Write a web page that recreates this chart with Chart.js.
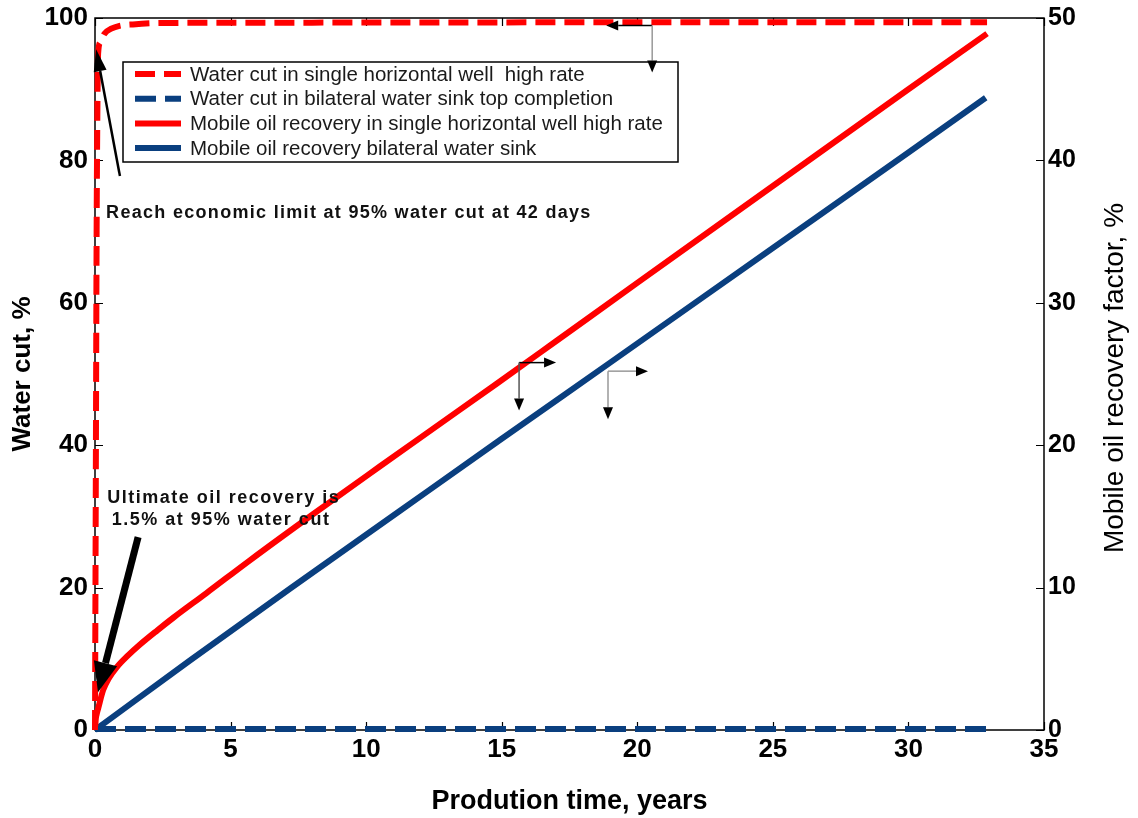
<!DOCTYPE html>
<html>
<head>
<meta charset="utf-8">
<title>Water cut and mobile oil recovery</title>
<script src="https://cdn.jsdelivr.net/npm/chart.js@4.4.0/dist/chart.umd.min.js"></script>
<style>
  html, body { margin: 0; padding: 0; background: #fff; }
</style>
</head>
<body>
<canvas id="chart" width="1138" height="818"></canvas>
<script>
// water cut, single horizontal well (high rate) - left axis, %
const wcSingleYears = [0, 0.03, 0.06, 0.09, 0.115, 0.2, 0.35, 0.6, 0.9, 1.4, 2.5, 8, 20, 32.9];
const wcSingle      = [0, 35, 70, 88, 95, 96.6, 97.8, 98.5, 98.9, 99.1, 99.3, 99.35, 99.4, 99.4];

// water cut, bilateral water sink top completion - left axis, %
const wcBilateralYears = [0, 32.9];
const wcBilateral      = [0.15, 0.15];

// mobile oil recovery, single horizontal well - right axis, %
const recSingleYears = [0, 0.03, 0.06, 0.115, 0.3, 0.5, 0.8, 1.2, 1.66, 2.3, 2.9, 4.1, 5.7, 8, 10.5, 12.5, 14.8, 17, 20, 25, 30, 32.9];
const recSingle      = [0, 0.8, 1.1, 1.5, 2.8, 3.6, 4.4, 5.2, 6.0, 7.0, 7.9, 9.6, 11.9, 15.1, 18.5, 21.2, 24.3, 27.3, 31.4, 38.2, 45.0, 48.9];

// mobile oil recovery, bilateral water sink - right axis, %
const recBilateralYears = [0, 1, 3.5, 7.2, 11.25, 15, 19, 25, 30, 32.85];
const recBilateral      = [0, 1.4, 4.88, 9.94, 15.4, 20.45, 25.8, 33.85, 40.55, 44.4];

const seriesLabels = [
  'Water cut in single horizontal well  high rate',
  'Water cut in bilateral water sink top completion',
  'Mobile oil recovery in single horizontal well high rate',
  'Mobile oil recovery bilateral water sink'
];

const xTicks = [0, 5, 10, 15, 20, 25, 30, 35];
const yLeftTicks = [0, 20, 40, 60, 80, 100];
const yRightTicks = [0, 10, 20, 30, 40, 50];

const FONT = '"Liberation Sans", Arial, Helvetica, sans-serif';
const RED = '#ff0000';
const BLUE = '#0a3f7f';

function pts(xs, ys) {
  return xs.map((x, i) => ({ x: x, y: ys[i] }));
}

// draws a line with a filled arrow head at (x2, y2)
function arrow(ctx, x1, y1, x2, y2, lw, headLen, headW, headColor, shaftColor) {
  const ang = Math.atan2(y2 - y1, x2 - x1);
  const bx = x2 - headLen * Math.cos(ang);
  const by = y2 - headLen * Math.sin(ang);
  ctx.save();
  ctx.strokeStyle = shaftColor || headColor;
  ctx.lineWidth = lw;
  ctx.lineCap = 'butt';
  ctx.beginPath();
  ctx.moveTo(x1, y1);
  ctx.lineTo(bx, by);
  ctx.stroke();
  ctx.fillStyle = headColor;
  ctx.beginPath();
  ctx.moveTo(x2, y2);
  ctx.lineTo(bx + headW * Math.sin(ang), by - headW * Math.cos(ang));
  ctx.lineTo(bx - headW * Math.sin(ang), by + headW * Math.cos(ang));
  ctx.closePath();
  ctx.fill();
  ctx.restore();
}

// frame + inward tick marks on all four sides
const framePlugin = {
  id: 'frame',
  beforeDatasetsDraw(chart) {
    const { ctx, chartArea: ca, scales } = chart;
    ctx.save();
    ctx.strokeStyle = '#000';
    ctx.lineWidth = 1.5;
    ctx.strokeRect(ca.left, ca.top, ca.right - ca.left, ca.bottom - ca.top);
    ctx.lineWidth = 1.2;
    ctx.beginPath();
    xTicks.forEach(v => {
      const px = Math.round(scales.x.getPixelForValue(v)) + 0.5;
      ctx.moveTo(px, ca.bottom); ctx.lineTo(px, ca.bottom - 8);
      ctx.moveTo(px, ca.top); ctx.lineTo(px, ca.top + 8);
    });
    yLeftTicks.forEach(v => {
      const py = Math.round(scales.y.getPixelForValue(v)) + 0.5;
      ctx.moveTo(ca.left, py); ctx.lineTo(ca.left + 8, py);
    });
    yRightTicks.forEach(v => {
      const py = Math.round(scales.y2.getPixelForValue(v)) + 0.5;
      ctx.moveTo(ca.right, py); ctx.lineTo(ca.right - 8, py);
    });
    ctx.stroke();
    ctx.restore();
  }
};

// legend box, notes and pointer arrows
const notesPlugin = {
  id: 'notes',
  afterDatasetsDraw(chart) {
    const { ctx, scales } = chart;
    const X = v => scales.x.getPixelForValue(v);
    const YL = v => scales.y.getPixelForValue(v);
    const YR = v => scales.y2.getPixelForValue(v);

    // legend
    ctx.save();
    ctx.fillStyle = '#fff';
    ctx.fillRect(123, 62, 555, 100);
    ctx.strokeStyle = '#000';
    ctx.lineWidth = 1.5;
    ctx.strokeRect(123, 62, 555, 100);
    ctx.font = '20.5px ' + FONT;
    ctx.textBaseline = 'middle';
    chart.data.datasets.forEach((ds, i) => {
      const y = 74 + i * 24.7;
      ctx.strokeStyle = ds.borderColor;
      ctx.lineWidth = 6;
      ctx.setLineDash(ds.borderDash || []);
      ctx.beginPath();
      ctx.moveTo(135, y);
      ctx.lineTo(181, y);
      ctx.stroke();
      ctx.setLineDash([]);
      ctx.fillStyle = '#1a1a1a';
      ctx.fillText(ds.label, 190, y + 1);
    });
    ctx.restore();

    // economic limit note
    ctx.save();
    ctx.fillStyle = '#111';
    ctx.font = 'bold 18px ' + FONT;
    ctx.letterSpacing = '1.3px';
    ctx.textBaseline = 'alphabetic';
    ctx.textAlign = 'left';
    ctx.fillText('Reach economic limit at 95% water cut at 42 days', X(0.41), YL(71.9));
    ctx.textAlign = 'center';
    ctx.letterSpacing = '1.5px';
    ctx.fillText('Ultimate oil recovery is', X(4.75), YL(31.9));
    ctx.fillText('1.5% at 95% water cut', X(4.65), YL(28.8));
    ctx.restore();

    arrow(ctx, X(0.92), YL(77.8), X(0.04), YL(95.6), 2.5, 22, 6.5, '#000');
    arrow(ctx, X(1.59), YL(27.1), X(0.11), YL(5.3), 7, 30, 12, '#000');

    // axis pointers
    let cx = X(15.64), cy = YR(25.8);
    arrow(ctx, cx, cy, cx + 37, cy, 1.5, 12, 5, '#000');
    arrow(ctx, cx, cy, cx, cy + 48, 1.5, 12, 5, '#000', '#555');
    cx = X(18.92); cy = YR(25.2);
    arrow(ctx, cx, cy, cx + 40, cy, 1.5, 12, 5, '#000', '#999');
    arrow(ctx, cx, cy, cx, cy + 48, 1.5, 12, 5, '#000', '#999');
    cx = X(20.55); cy = YL(98.95);
    arrow(ctx, cx, cy, cx - 46, cy, 1.5, 12, 5, '#000');
    arrow(ctx, cx, cy, cx, cy + 47, 1.5, 12, 5, '#000', '#999');
  },
  afterDraw(chart) {
    // right axis title reads bottom to top
    const { ctx, chartArea: ca } = chart;
    ctx.save();
    ctx.translate(1115, (ca.top + ca.bottom) / 2 + 4);
    ctx.rotate(-Math.PI / 2);
    ctx.font = '28px ' + FONT;
    ctx.fillStyle = '#000';
    ctx.textAlign = 'center';
    ctx.textBaseline = 'middle';
    ctx.fillText('Mobile oil recovery factor, %', 0, 0);
    ctx.restore();
  }
};

const tickFont = { family: FONT, size: 26, weight: 'bold' };

new Chart(document.getElementById('chart'), {
  type: 'scatter',
  data: {
    datasets: [
      {
        label: seriesLabels[0],
        data: pts(wcSingleYears, wcSingle),
        yAxisID: 'y',
        borderColor: RED,
        borderWidth: 6,
        borderDash: [20, 9],
        cubicInterpolationMode: 'monotone'
      },
      {
        label: seriesLabels[1],
        data: pts(wcBilateralYears, wcBilateral),
        yAxisID: 'y',
        borderColor: BLUE,
        borderWidth: 6,
        borderDash: [21, 9]
      },
      {
        label: seriesLabels[2],
        data: pts(recSingleYears, recSingle),
        yAxisID: 'y2',
        borderColor: RED,
        borderWidth: 6,
        cubicInterpolationMode: 'monotone'
      },
      {
        label: seriesLabels[3],
        data: pts(recBilateralYears, recBilateral),
        yAxisID: 'y2',
        borderColor: BLUE,
        borderWidth: 6,
        cubicInterpolationMode: 'monotone'
      }
    ]
  },
  options: {
    responsive: false,
    animation: false,
    showLine: true,
    clip: false,
    elements: { point: { radius: 0, hoverRadius: 0 } },
    layout: { padding: { top: 18, left: 0, right: 0, bottom: 0 } },
    plugins: {
      legend: { display: false },
      tooltip: { enabled: false }
    },
    scales: {
      x: {
        type: 'linear',
        position: 'bottom',
        min: 0,
        max: 35,
        afterBuildTicks: s => { s.ticks = xTicks.map(v => ({ value: v })); },
        ticks: { color: '#000', font: tickFont, padding: 4, maxRotation: 0 },
        grid: { display: false, drawTicks: false },
        border: { display: false },
        title: {
          display: true,
          text: 'Prodution time, years',
          color: '#000',
          font: { family: FONT, size: 27, weight: 'bold' },
          padding: { top: 0, bottom: 0 }
        },
        afterFit: s => { s.height = 88; s.paddingLeft = 0; s.paddingRight = 0; }
      },
      y: {
        position: 'left',
        min: 0,
        max: 100,
        afterBuildTicks: s => { s.ticks = yLeftTicks.map(v => ({ value: v })); },
        ticks: { color: '#000', font: tickFont, padding: 7 },
        grid: { display: false, drawTicks: false },
        border: { display: false },
        title: {
          display: true,
          text: 'Water cut, %',
          color: '#000',
          font: { family: FONT, size: 26, weight: 'bold' },
          padding: { top: 7, bottom: 0 }
        },
        afterFit: s => { s.width = 95; s.paddingTop = 0; s.paddingBottom = 0; }
      },
      y2: {
        position: 'right',
        min: 0,
        max: 50,
        afterBuildTicks: s => { s.ticks = yRightTicks.map(v => ({ value: v })); },
        ticks: { color: '#000', font: { family: FONT, size: 25, weight: 'bold' }, padding: 4 },
        grid: { display: false, drawTicks: false },
        border: { display: false },
        afterFit: s => { s.width = 94; s.paddingTop = 0; s.paddingBottom = 0; }
      }
    }
  },
  plugins: [framePlugin, notesPlugin]
});
</script>
</body>
</html>
